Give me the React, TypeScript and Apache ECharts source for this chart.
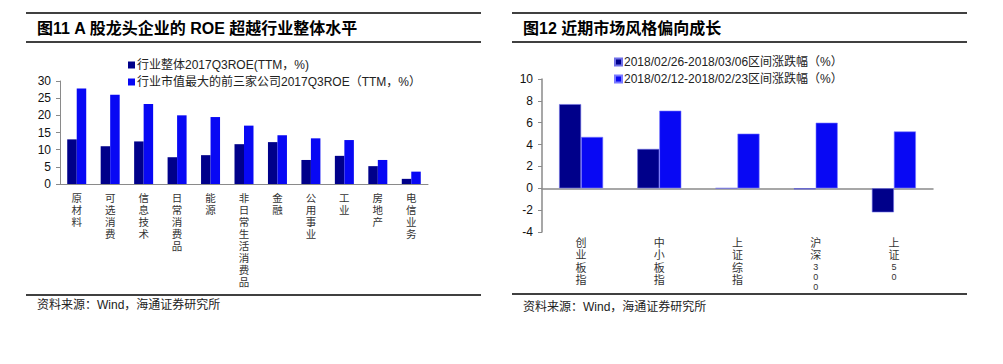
import React, { useEffect, useRef } from "react";
import * as echarts from "echarts";

const leftTitle = "图11 A 股龙头企业的 ROE 超越行业整体水平";
const rightTitle = "图12 近期市场风格偏向成长";
const sourceText = "资料来源：Wind，海通证券研究所";

const leftCategories = ["原材料", "可选消费", "信息技术", "日常消费品", "能源", "非日常生活消费品", "金融", "公用事业", "工业", "房地产", "电信业务"];
const leftSeriesNames = ["行业整体2017Q3ROE(TTM，%)", "行业市值最大的前三家公司2017Q3ROE（TTM，%）"];
const leftIndustry = [13.0, 11.0, 12.4, 7.8, 8.4, 11.6, 12.2, 7.0, 8.2, 5.2, 1.5];
const leftTop3 = [27.8, 26.0, 23.3, 20.0, 19.5, 17.0, 14.2, 13.3, 12.8, 7.0, 3.6];

const rightCategories = ["创业板指", "中小板指", "上证综指", "沪深300", "上证50"];
const rightSeriesNames = ["2018/02/26-2018/03/06区间涨跌幅（%）", "2018/02/12-2018/02/23区间涨跌幅（%）"];
const rightRecent = [7.7, 3.6, 0.0, -0.1, -2.2];
const rightPrev = [4.7, 7.1, 5.0, 6.0, 5.2];

const DARK = "#00008a";
const BLUE = "#0808f4";
const AXIS = "#8a8a8a";
const FONT = "Liberation Sans, Arial, Noto Sans CJK SC, sans-serif";

const vertical = (s: string) => s.split("").join("\n");
const verticalRich = (s: string) =>
  s
    .split("")
    .map((c) => (/[0-9]/.test(c) ? "{d|" + c + "}" : "{c|" + c + "}"))
    .join("\n");

export default function App() {
  const ref = useRef<HTMLDivElement>(null);
  useEffect(() => {
    if (!ref.current) return;
    const chart = echarts.init(ref.current, null, { renderer: "svg" });
    const rule = (x1: number, x2: number, y: number) => ({
      type: "line",
      shape: { x1, y1: y, x2, y2: y },
      style: { stroke: "#000", lineWidth: 1.5 },
    });
    const txt = (x: number, y: number, text: string, size: number, bold: boolean) => ({
      type: "text",
      x,
      y,
      style: {
        text,
        fontSize: size,
        fontWeight: bold ? "bold" : "normal",
        fontFamily: FONT,
        fill: bold ? "#000" : "#222",
        textVerticalAlign: "middle",
        verticalAlign: "middle",
      },
    });
    chart.setOption({
      animation: false,
      backgroundColor: "#fff",
      textStyle: { fontFamily: FONT },
      graphic: [
        rule(26, 481, 13),
        rule(26, 481, 42),
        rule(26, 481, 295),
        rule(512, 967, 13),
        rule(512, 967, 42),
        rule(512, 967, 294),
        txt(37, 28, leftTitle, 16, true),
        txt(523, 28, rightTitle, 16, true),
        txt(37, 305, sourceText, 12, false),
        txt(523, 307, sourceText, 12, false),
      ],
      legend: [
        {
          orient: "vertical",
          left: 123,
          top: 54,
          itemGap: 5,
          itemWidth: 7,
          itemHeight: 7,
          icon: "rect",
          data: leftSeriesNames,
          textStyle: { fontSize: 12, color: "#222", padding: [0, 0, 0, -3], fontFamily: FONT },
        },
        {
          orient: "vertical",
          left: 609,
          top: 51,
          itemGap: 5,
          itemWidth: 7,
          itemHeight: 7,
          icon: "rect",
          data: rightSeriesNames,
          textStyle: { fontSize: 12, color: "#222", padding: [0, 0, 0, -3], fontFamily: FONT },
        },
      ],
      grid: [
        { left: 60, right: 1003 - 428, top: 81, bottom: 364 - 184 },
        { left: 542, right: 1003 - 933, top: 79, bottom: 364 - 232 },
      ],
      xAxis: [
        {
          type: "category",
          gridIndex: 0,
          data: leftCategories,
          axisLine: { lineStyle: { color: AXIS, width: 1 } },
          axisTick: { length: 4, lineStyle: { color: AXIS } },
          axisLabel: {
            interval: 0,
            formatter: vertical,
            fontSize: 10.5,
            lineHeight: 12,
            color: "#333",
            margin: 8,
            fontFamily: FONT,
          },
        },
        {
          type: "category",
          gridIndex: 1,
          data: rightCategories,
          axisLine: { onZero: true, lineStyle: { color: AXIS, width: 1.5 } },
          axisTick: { length: 4, lineStyle: { color: AXIS } },
          axisLabel: {
            interval: 0,
            formatter: verticalRich,
            color: "#333",
            margin: 5,
            rich: {
              c: { fontSize: 11, lineHeight: 12.3, color: "#333", fontFamily: FONT },
              d: { fontSize: 9, lineHeight: 10.2, color: "#333", fontFamily: FONT },
            },
          },
        },
      ],
      yAxis: [
        {
          type: "value",
          gridIndex: 0,
          min: 0,
          max: 30,
          interval: 5,
          splitLine: { show: false },
          axisLine: { show: true, lineStyle: { color: AXIS, width: 1 } },
          axisTick: { show: true, length: 4, lineStyle: { color: AXIS } },
          axisLabel: { fontSize: 12, color: "#111", margin: 9, fontFamily: FONT },
        },
        {
          type: "value",
          gridIndex: 1,
          min: -4,
          max: 10,
          interval: 2,
          splitLine: { show: false },
          axisLine: { show: true, lineStyle: { color: AXIS, width: 1.5 } },
          axisTick: { show: true, length: 4, lineStyle: { color: AXIS } },
          axisLabel: { fontSize: 12, color: "#111", margin: 9, fontFamily: FONT },
        },
      ],
      series: [
        {
          name: leftSeriesNames[0],
          type: "bar",
          xAxisIndex: 0,
          yAxisIndex: 0,
          data: leftIndustry,
          barWidth: 9.5,
          barGap: "0%",
          itemStyle: { color: DARK },
        },
        {
          name: leftSeriesNames[1],
          type: "bar",
          xAxisIndex: 0,
          yAxisIndex: 0,
          data: leftTop3,
          barWidth: 9.5,
          barGap: "0%",
          itemStyle: { color: BLUE },
        },
        {
          name: rightSeriesNames[0],
          type: "bar",
          xAxisIndex: 1,
          yAxisIndex: 1,
          data: rightRecent,
          barWidth: 22,
          barGap: "0%",
          itemStyle: { color: DARK, borderColor: "#6f6fe8", borderWidth: 0.6 },
        },
        {
          name: rightSeriesNames[1],
          type: "bar",
          xAxisIndex: 1,
          yAxisIndex: 1,
          data: rightPrev,
          barWidth: 22,
          barGap: "0%",
          itemStyle: { color: BLUE, borderColor: "#7a7aff", borderWidth: 0.6 },
        },
      ],
    });
    return () => chart.dispose();
  }, []);
  return (
    <div
      ref={ref}
      style={{ position: "absolute", left: 0, top: 0, width: 1003, height: 364, background: "#fff" }}
    />
  );
}
